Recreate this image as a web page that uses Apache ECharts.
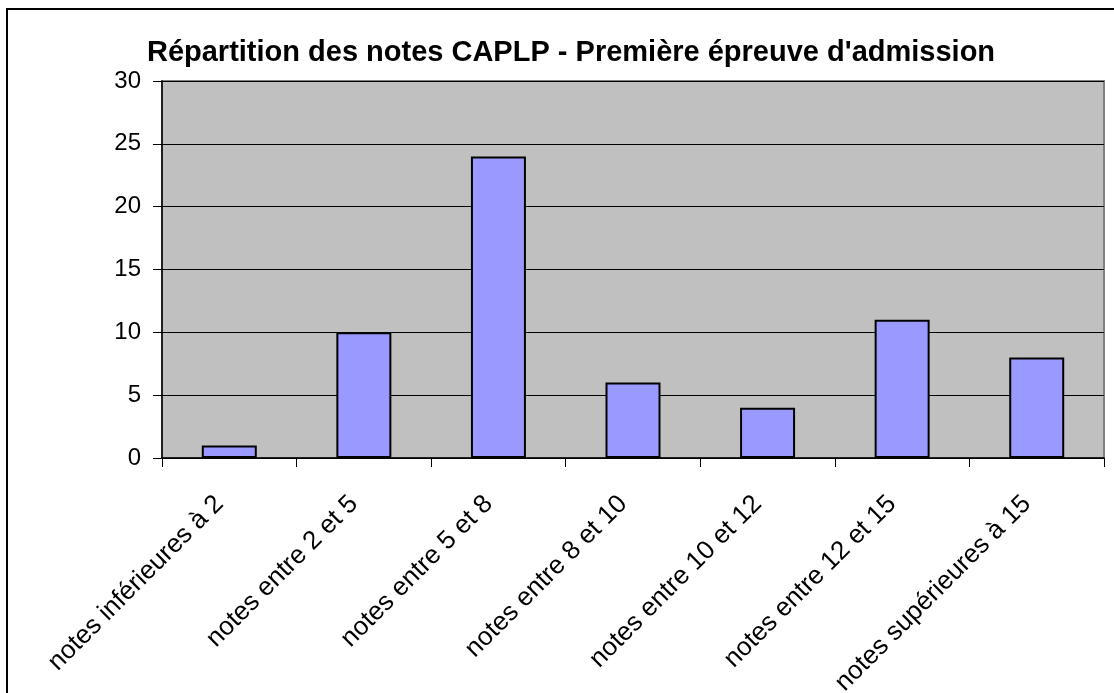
<!DOCTYPE html>
<html>
<head>
<meta charset="utf-8">
<script src="https://cdn.jsdelivr.net/npm/echarts@6/dist/echarts.min.js"></script>
<style>
  html, body { margin: 0; padding: 0; background: #fff; }
  #chart { width: 1114px; height: 693px; }
</style>
</head>
<body>
<div id="chart"></div>
<script>
  // catégories et valeurs
  var categories = [
    'notes inférieures à 2',
    'notes entre 2 et 5',
    'notes entre 5 et 8',
    'notes entre 8 et 10',
    'notes entre 10 et 12',
    'notes entre 12 et 15',
    'notes supérieures à 15'
  ];
  var effectifs = [1, 10, 24, 6, 4, 11, 8];
  var yTicks = [0, 5, 10, 15, 20, 25, 30];

  var myChart = echarts.init(document.getElementById('chart'));
  myChart.setOption({
    animation: false,
    textStyle: { fontFamily: 'Liberation Sans, Arial, sans-serif' },
    title: {
      text: "Répartition des notes CAPLP - Première épreuve d'admission",
      left: 566,
      top: 33,
      textAlign: 'center',
      textStyle: { fontSize: 29, fontWeight: 'bold', color: '#000' }
    },
    graphic: [{
      type: 'rect',
      shape: { x: 7, y: 9, width: 1200, height: 800 },
      style: { fill: 'none', stroke: '#000', lineWidth: 2 },
      silent: true
    }],
    grid: {
      left: 162, right: 10, top: 81, bottom: 235,
      outerBoundsMode: 'none',
      containLabel: false,
      show: true,
      backgroundColor: '#C0C0C0',
      borderColor: '#808080',
      borderWidth: 2
    },
    xAxis: {
      type: 'category',
      data: categories,
      axisLine: { lineStyle: { color: '#000', width: 1.5 } },
      axisTick: { show: true, length: 9, lineStyle: { color: '#000' } },
      axisLabel: {
        rotate: 45,
        interval: 0,
        margin: 32,
        padding: [0, 14, 0, 0],
        fontSize: 26,
        color: '#000'
      }
    },
    yAxis: {
      type: 'value',
      min: yTicks[0],
      max: yTicks[yTicks.length - 1],
      interval: 5,
      axisLine: { show: true, lineStyle: { color: '#000', width: 1.5 } },
      axisTick: { show: true, length: 9, lineStyle: { color: '#000' } },
      axisLabel: { margin: 21, fontSize: 24, color: '#000' },
      splitLine: { show: true, lineStyle: { color: '#000', width: 1 } }
    },
    series: [{
      type: 'bar',
      data: effectifs,
      barWidth: 55,
      itemStyle: { color: '#9999FF', borderColor: '#000', borderWidth: 2 }
    }]
  });
</script>
</body>
</html>
